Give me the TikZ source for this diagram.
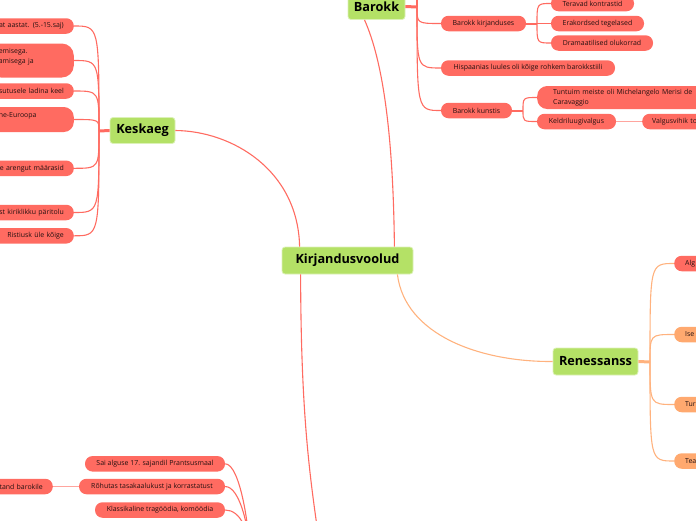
\documentclass[tikz,border=0pt]{standalone}
\usepackage{fontspec}
\setmainfont{Open Sans}
\definecolor{lred}{HTML}{FF6B61}
\definecolor{lredl}{HTML}{FFA59E}
\definecolor{lor}{HTML}{FFB27E}
\definecolor{lorf}{HTML}{FFA96F}
\definecolor{mgreen}{HTML}{B4E166}
\definecolor{mgreenb}{HTML}{DCF1B8}
\definecolor{ltext}{HTML}{241010}
\tikzset{
 topic/.style={fill=mgreen, draw=mgreenb, line width=0.8pt, rounded corners=3pt, font=\fontsize{12.7}{14}\selectfont\bfseries, text=black, inner sep=0pt},
 leaf/.style={fill=lred, rounded corners=7.5pt, font=\fontsize{6.95}{9.5}\selectfont, text=ltext, minimum height=15.5pt, inner xsep=10pt, inner ysep=0pt},
 oleaf/.style={leaf, fill=lorf},
 con/.style={draw=lred, line width=1.1pt},
 ocon/.style={draw=lor, line width=1.1pt},
 lcon/.style={draw=lredl, line width=1.1pt},
 stub/.style={draw=lred, line width=3pt},
 sstub/.style={draw=lred, line width=2pt},
 ostub/.style={draw=lor, line width=3pt},
}
\begin{document}
\begin{tikzpicture}[x=1pt,y=-1pt]
\useasboundingbox (0,0) rectangle (696,520);
\clip (0,0) rectangle (696,520);
% main topics
\node[topic, minimum width=131pt, minimum height=27pt] (kv) at (347.5,260.5) {Kirjandusvoolud};
\node[topic, minimum width=65pt, minimum height=26pt] (ke) at (142.5,130.5) {Keskaeg};
\node[topic, minimum width=57pt, minimum height=26pt] (ba) at (376.5,6.5) {Barokk};
\node[topic, minimum width=85pt, minimum height=27pt] (re) at (595.5,361.5) {Renessanss};
% Keskaeg leaves
\node[leaf, anchor=east, text width=80pt, align=right] (k1) at (74,26) {at aastat. (5.-15.saj)};
\node[leaf, anchor=east, text width=65pt, align=left, minimum height=34pt, rounded corners=12pt] (k2) at (74,60.5) {emisega.\\amisega ja\\~};
\node[leaf, anchor=east, text width=80pt, align=right] (k3) at (74,91) {sutusele ladina keel};
\node[leaf, anchor=east, text width=65pt, align=left, minimum height=25pt, rounded corners=10pt] (k4) at (74,119.5) {ne-Euroopa\\~};
\node[leaf, anchor=east, text width=80pt, align=right] (k5) at (74,168.3) {e arengut määrasid};
\node[leaf, anchor=east, text width=80pt, align=right] (k6) at (74,212.5) {st kiriklikku päritolu};
\node[leaf, anchor=east, text width=80pt, align=right] (k7) at (74,235.8) {Ristiusk üle kõige};
% Barokk leaves
\node[leaf, minimum width=85pt] (bk) at (483.5,23.5) {Barokk kirjanduses};
\node[leaf, minimum width=83pt] (b11) at (592.5,3.5) {Teravad kontrastid};
\node[leaf, minimum width=93pt] (b12) at (597.5,23.5) {Erakordsed tegelased};
\node[leaf, minimum width=102pt] (b13) at (602,43) {Dramaatilised olukorrad};
\node[leaf, minimum width=174pt] (bh) at (528,68) {Hispaanias luules oli kõige rohkem barokkstiili};
\node[leaf, minimum width=71pt] (bku) at (476.5,110.5) {Barokk kunstis};
\node[leaf, anchor=west, text width=150pt, align=left, minimum height=23pt, rounded corners=10pt, inner xsep=16pt] (b21) at (537,97.5) {Tuntuim meiste oli Michelangelo Merisi de\\Caravaggio};
\node[leaf, minimum width=79pt] (b22) at (576.5,121.5) {Keldriluugivalgus};
\node[leaf, anchor=west, text width=60pt, align=left] (b221) at (642,121.5) {Valgusvihik to};
% Renessanss leaves
\node[leaf, anchor=west, text width=60pt, align=left, inner xsep=11pt] (r1) at (674,263.5) {Alg};
\node[oleaf, anchor=west, text width=60pt, align=left, inner xsep=11pt] (r2) at (674,334.5) {Ise};
\node[oleaf, anchor=west, text width=60pt, align=left, inner xsep=11pt] (r3) at (674,404.5) {Tur};
\node[oleaf, anchor=west, text width=60pt, align=left, inner xsep=11pt] (r4) at (674,461) {Tea};
% Klassitsism leaves
\node[leaf, minimum width=140pt] (c1) at (155,463.8) {Sai alguse 17. sajandil Prantsusmaal};
\node[leaf, minimum width=146pt] (c2) at (152,486.5) {Rõhutas tasakaalukust ja korrastatust};
\node[leaf, minimum width=130pt] (c3) at (160,510) {Klassikaline tragöödia, komöödia};
\node[leaf, anchor=east, text width=60pt, align=right] (c21) at (53,486.5) {tand barokile};
% hubs
\coordinate (kehub) at (99,131);
\coordinate (bahub) at (417,7);
\coordinate (batop) at (417,-12);
\coordinate (bkhub) at (537,23.5);
\coordinate (bkuhub) at (523,110.5);
\coordinate (rehub) at (650,362);
\coordinate (klhub) at (250,560);
\coordinate (kl) at (322,560);
% central connectors
\draw[con] ([xshift=18pt]kv.north west) .. controls (298,170) and (232,131) .. (ke.east);
\draw[con] ([xshift=-19pt]kv.north east) .. controls (393,110) and (378,50) .. ([xshift=-12pt]ba.south);
\draw[ocon] ([xshift=-16pt]kv.south east) .. controls (405,335) and (480,362) .. (re.west);
\draw[con] ([xshift=19pt]kv.south west) .. controls (301,420) and (310,480) .. (kl);
% Keskaeg
\draw[stub] (ke.west) -- (kehub);
\foreach \n in {k1,k2,k3,k4,k5,k6,k7} \draw[con] (kehub) .. controls (kehub |- \n.east) .. (\n.east);
% Barokk
\draw[stub] (ba.east) -- (bahub);
\draw[con] (bahub) -- (batop);
\foreach \n in {bk,bh,bku} \draw[con] (bahub) .. controls (bahub |- \n.west) .. (\n.west);
\draw[sstub] (bk.east) -- (bkhub);
\foreach \n in {b11,b12,b13} \draw[con] (bkhub) .. controls (bkhub |- \n.west) .. (\n.west);
\draw[sstub] (bku.east) -- (bkuhub);
\foreach \n in {b21,b22} \draw[con] (bkuhub) .. controls (bkuhub |- \n.west) .. (\n.west);
\draw[lcon] (b22.east) -- (b221.west);
% Renessanss
\draw[ostub] (re.east) -- (rehub);
\foreach \n in {r1,r2,r3,r4} \draw[ocon] (rehub) .. controls (rehub |- \n.west) .. (\n.west);
% Klassitsism
\foreach \n in {c1,c2,c3} \draw[con] (\n.east) .. controls ([xshift=15pt]\n.east) and ([yshift=30pt]klhub) .. (klhub);
\draw[lcon] (c2.west) -- (c21.east);
\end{tikzpicture}
\end{document}
